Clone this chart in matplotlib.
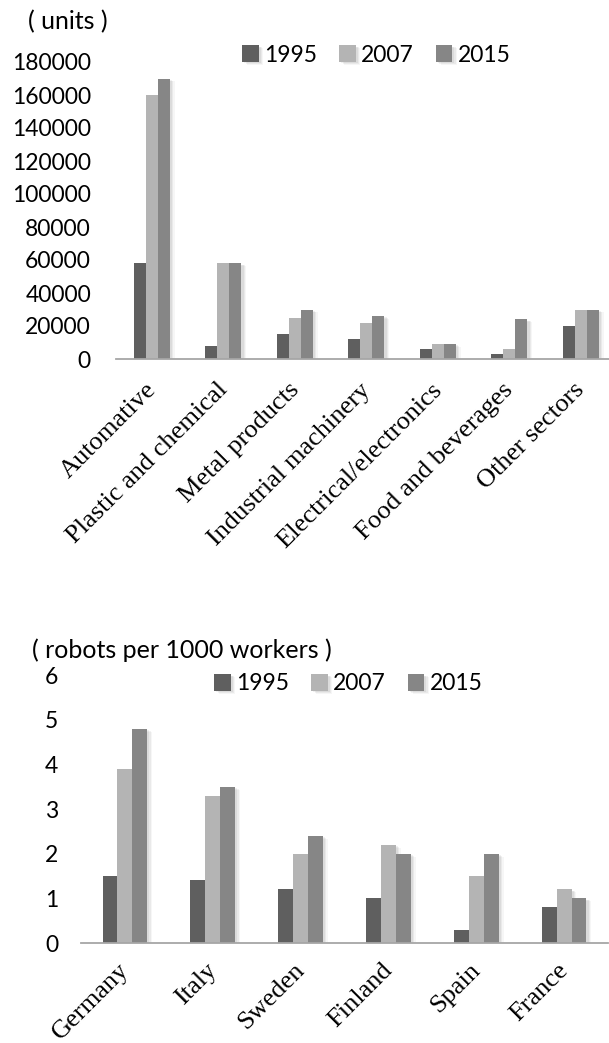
import matplotlib
matplotlib.use("Agg")
import matplotlib.pyplot as plt
import matplotlib.patheffects as pe
import matplotlib.transforms as mtransforms
import numpy as np

# ---- data -------------------------------------------------------------
years = ["1995", "2007", "2015"]

sectors = ["Automative", "Plastic and chemical", "Metal products",
           "Industrial machinery", "Electrical/electronics",
           "Food and beverages", "Other sectors"]
units_1995 = [58000, 8000, 15000, 12000, 6000, 3000, 20000]
units_2007 = [160000, 58000, 25000, 22000, 9000, 6000, 30000]
units_2015 = [170000, 58000, 30000, 26000, 9000, 24000, 30000]
units_ticks = [0, 20000, 40000, 60000, 80000, 100000, 120000, 140000,
               160000, 180000]

countries = ["Germany", "Italy", "Sweden", "Finland", "Spain", "France"]
density_1995 = [1.5, 1.4, 1.2, 1.0, 0.3, 0.8]
density_2007 = [3.9, 3.3, 2.0, 2.2, 1.5, 1.2]
density_2015 = [4.8, 3.5, 2.4, 2.0, 2.0, 1.0]
density_ticks = [0, 1, 2, 3, 4, 5, 6]

# ---- style ------------------------------------------------------------
colors = ["#5f5f5f", "#b4b4b4", "#868686"]
sans = ["Lato", "DejaVu Sans"]
serif = ["Liberation Serif", "DejaVu Serif"]
FS = 16.5
CAT_FS = 19
TITLE_FS = 18

W, H = 609, 1043
fig = plt.figure(figsize=(W / 100, H / 100), dpi=100)

# soft drop shadow built from a few faint offset copies
shadow = [pe.SimplePatchShadow(offset=(d, -d * 0.6), shadow_rgbFace="black",
                               alpha=a)
          for d, a in ((3.5, 0.035), (2.5, 0.05), (1.5, 0.06))] + [pe.Normal()]

# nudge the slanted category labels a little to the right of their ticks
label_shift = mtransforms.ScaledTranslation(5 / 100, 0, fig.dpi_scale_trans)


def px_axes(left, right, top, bottom):
    return fig.add_axes([left / W, 1 - bottom / H, (right - left) / W,
                         (bottom - top) / H])


def grouped_bars(ax, cats, series, ticks, ypad, xpad, legend_xy):
    x = np.arange(len(cats))
    w = 0.17
    for i, (vals, col, lab) in enumerate(zip(series, colors, years)):
        bars = ax.bar(x + (i - 1) * w, vals, w, color=col, label=lab,
                      zorder=3, linewidth=0)
        for b in bars:
            b.set_path_effects(shadow)
    ax.set_xlim(-0.5, len(cats) - 0.5)
    ax.set_ylim(ticks[0], ticks[-1])
    ax.set_yticks(ticks)
    ax.set_yticklabels([str(t) for t in ticks], fontfamily=sans, fontsize=FS)
    ax.tick_params(axis="y", length=0, pad=ypad)
    ax.set_xticks(x)
    ax.set_xticklabels(cats, rotation=45, ha="right", va="baseline",
                       rotation_mode="anchor", fontfamily=serif,
                       fontsize=CAT_FS)
    ax.tick_params(axis="x", length=0, pad=xpad)
    for lbl in ax.get_xticklabels():
        lbl.set_transform(lbl.get_transform() + label_shift)
    for s in ("left", "top", "right"):
        ax.spines[s].set_visible(False)
    ax.spines["bottom"].set_color("#a6a6a6")
    ax.spines["bottom"].set_linewidth(1.3)
    ax.spines["bottom"].set_zorder(4)
    ax.patch.set_alpha(0)
    ax.legend(loc="center", bbox_to_anchor=(legend_xy[0] / W,
                                            1 - legend_xy[1] / H),
              bbox_transform=fig.transFigure, ncol=3, frameon=False,
              handlelength=0.72, handleheight=0.72, handletextpad=0.25,
              columnspacing=0.95, borderpad=0, borderaxespad=0,
              prop={"family": sans, "size": FS})


# upper panel: robot units by sector
ax1 = px_axes(116, 616.5, 62, 359)
grouped_bars(ax1, sectors, [units_1995, units_2007, units_2015],
             units_ticks, 18, 23, (376.5, 55))
fig.text(28 / W, 1 - 22 / H, "( units )", ha="left", va="center",
         fontfamily=sans, fontsize=TITLE_FS)

# lower panel: robot density by country
ax2 = px_axes(81, 608, 675, 943)
grouped_bars(ax2, countries, [density_1995, density_2007, density_2015],
             density_ticks, 16.5, 20, (348.5, 684))
fig.text(32 / W, 1 - 650 / H, "( robots per 1000 workers )", ha="left",
         va="center", fontfamily=sans, fontsize=TITLE_FS)

fig.savefig("out.png", dpi=100, facecolor="white")
